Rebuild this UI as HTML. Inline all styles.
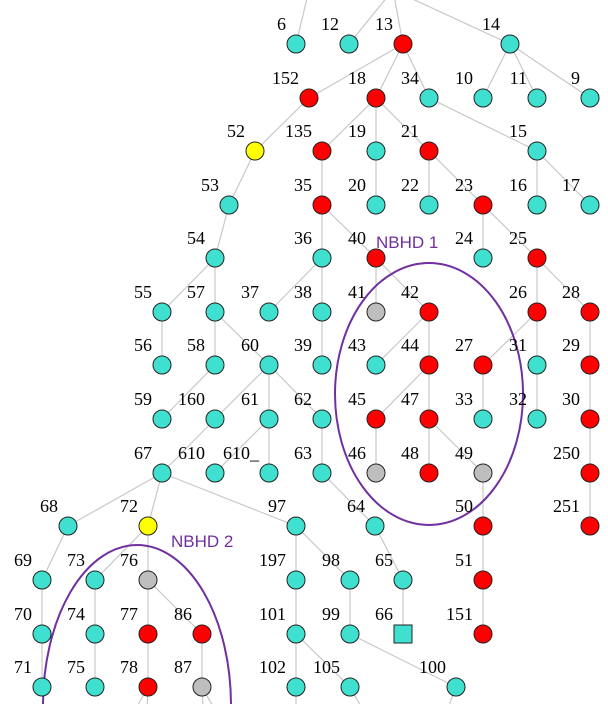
<!DOCTYPE html>
<html><head><meta charset="utf-8"><style>
html,body{margin:0;padding:0;background:#fff;width:608px;height:704px;overflow:hidden;}
svg{display:block;overflow:hidden;}
text{font-family:"Liberation Serif",serif;font-size:18px;fill:#000;}
.nb{font-family:"Liberation Sans",sans-serif;font-size:17px;fill:#7030a0;}
</style></head><body>
<svg id="g" width="608" height="704" viewBox="0 0 608 704" xmlns="http://www.w3.org/2000/svg">
<g id="edges"></g>
<ellipse cx="429" cy="394" rx="94" ry="131" fill="none" stroke="#7030a0" stroke-width="2"/>
<ellipse cx="137" cy="705" rx="94" ry="160" fill="none" stroke="#7030a0" stroke-width="2"/>
<g id="nodes"></g>
<text class="nb" x="376" y="248">NBHD 1</text>
<text class="nb" x="171" y="547">NBHD 2</text>
</svg>
<script>
const nodeIds = ["top","topL",
"6","12","13","14",
"152","18","34","10","11","9",
"52","135","19","21","15",
"53","35","20","22","23","16","17",
"54","36","40","24","25",
"55","57","37","38","41","42","26","28",
"56","58","60","39","43","44","27","31","29",
"59","160","61","62","45","47","33","32","30",
"67","610","610_","63","46","48","49","250",
"68","72","97","64","50","251",
"69","73","76","197","98","65","51",
"70","74","77","86","101","99","66","151",
"71","75","78","87","102","105","100",
"b1","b2","b3","b4","b5","b6","b7"];
const nodeX = [393,309,
296,349,403,510,
309,376,429,483,537,590,
255,322,376,429,537,
229,322,376,429,483,537,590,
215,322,376,483,537,
162,215,269,322,376,429,537,590,
162,215,269,322,376,429,483,537,590,
162,215,269,322,376,429,483,537,590,
162,215,269,322,376,429,483,590,
68,148,296,375,483,590,
42,95,148,296,350,403,483,
42,95,148,202,296,350,403,483,
42,95,148,202,296,350,456,
118,146,205,232,296,380,436];
const nodeY = [-10,-10,
44,44,44,44,
98,98,98,98,98,98,
151,151,151,151,151,
205,205,205,205,205,205,205,
258,258,258,258,258,
312,312,312,312,312,312,312,312,
365,365,365,365,365,365,365,365,365,
419,419,419,419,419,419,419,419,419,
473,473,473,473,473,473,473,473,
526,526,526,526,526,526,
580,580,580,580,580,580,580,
634,634,634,634,634,634,634,634,
687,687,687,687,687,687,687,
740,740,740,740,740,740,740];
const nodeColor = ["t","t",
"t","t","r","t",
"r","r","t","t","t","t",
"y","r","t","r","t",
"t","r","t","t","r","t","t",
"t","t","r","t","r",
"t","t","t","t","g","r","r","r",
"t","t","t","t","t","r","r","t","r",
"t","t","t","t","r","r","t","t","r",
"t","t","t","t","g","r","g","r",
"t","y","t","t","r","r",
"t","t","g","t","t","t","r",
"t","t","r","r","t","t","s","r",
"t","t","r","g","t","t","t",
"t","t","t","t","t","t","t"];
const edgeFrom = ["top","topL","top","top","13","13","13","14","14","14","152","18","18","18","34","52","135","19","21","21","15","15","53","35","35","23","23","54","54","36","36","40","40","25","25","55","57","57","38","42","42","26","26","28","58","60","60","60","44","44","27","31","29","160","61","61","62","45","47","47","30","67","67","67","63","49","250","68","72","72","97","97","64","50","69","73","76","76","197","98","65","51","70","74","77","86","101","101","99","78","78","87","87","102","105","100"];
const edgeTo = ["12","6","13","14","152","18","34","10","11","9","52","135","19","21","15","53","35","20","22","23","16","17","54","36","40","24","25","55","57","37","38","41","42","26","28","56","58","60","39","43","44","27","31","29","59","160","61","62","45","47","33","32","30","67","610","610_","63","46","48","49","250","68","72","97","64","50","251","69","73","76","197","98","65","51","70","74","77","86","101","99","66","151","71","75","78","87","102","105","100","b1","b2","b3","b4","b5","b6","b7"];
const colorMap = {t:"#40e0d0",r:"#ff0000",g:"#bebebe",y:"#ffff00",s:"#40e0d0"};
const NS="http://www.w3.org/2000/svg";
const idx = {}; nodeIds.forEach((id,i)=>idx[id]=i);
const eg=document.getElementById('edges');
for(let k=0;k<edgeFrom.length;k++){
  const a=idx[edgeFrom[k]], b=idx[edgeTo[k]];
  const l=document.createElementNS(NS,'line');
  l.setAttribute('x1',nodeX[a]);l.setAttribute('y1',nodeY[a]);
  l.setAttribute('x2',nodeX[b]);l.setAttribute('y2',nodeY[b]);
  l.setAttribute('stroke','#c8c8c8');l.setAttribute('stroke-width','1.2');
  
  
  eg.appendChild(l);
}
const ng=document.getElementById('nodes');
nodeIds.forEach((id,i)=>{
  const x=nodeX[i], y=nodeY[i], c=nodeColor[i];
  if(y<-5||y>720) return;
  let s;
  if(c==='s'){ s=document.createElementNS(NS,'rect');
    s.setAttribute('x',x-9);s.setAttribute('y',y-9);s.setAttribute('width',18);s.setAttribute('height',18);
  } else { s=document.createElementNS(NS,'circle');
    s.setAttribute('cx',x);s.setAttribute('cy',y);s.setAttribute('r',9);}
  s.setAttribute('fill',colorMap[c]);s.setAttribute('stroke','#222');s.setAttribute('stroke-width','1');
  
  
  ng.appendChild(s);
  const t=document.createElementNS(NS,'text');
  t.setAttribute('x',x-10);t.setAttribute('y',y-14);t.setAttribute('text-anchor','end');
  t.textContent=id;
  
  
  ng.appendChild(t);
});
</script>
</body></html>
